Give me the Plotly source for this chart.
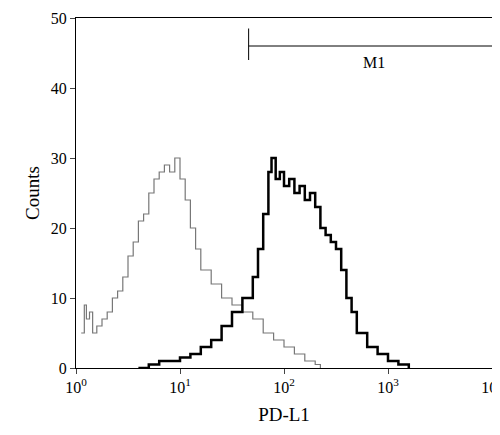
import plotly.graph_objects as go

gray_logx = [0.05,0.08,0.1,0.13,0.16,0.2,0.25,0.3,0.35,0.4,0.45,0.5,0.55,0.6,0.65,0.7,0.75,0.8,0.85,0.9,0.95,1.0,1.05,1.1,1.15,1.2,1.3,1.4,1.5,1.6,1.7,1.8,1.9,2.0,2.1,2.2,2.3,2.35]
gray_counts = [5,9,7,8,5,6,7,8,10,11,13,16,18,21,22,25,27,28,29,28,30,27,24,20,17,14,12,10,9,8,7,5,4,3,2,1,0.5,0]
black_logx = [0.6,0.7,0.8,0.9,1.0,1.1,1.2,1.3,1.4,1.5,1.6,1.7,1.75,1.8,1.85,1.88,1.92,1.96,2.0,2.05,2.1,2.15,2.2,2.25,2.3,2.35,2.4,2.45,2.5,2.55,2.6,2.65,2.7,2.8,2.9,3.0,3.1,3.2]
black_counts = [0,0.5,1,1,1.5,2,3,4,6,8,10,13,17,22,28,30,27,28,26,27,25,26,24,25,23,20,19,18,17,14,10,8,5,3,2,1,0.5,0]
m1_start, m1_end, m1_level = 10**1.66, 10**4, 46
m1_tick_top, m1_tick_bottom = 48.5, 44

fig = go.Figure()
fig.add_trace(go.Scatter(x=[10**v for v in gray_logx], y=gray_counts, mode="lines",
                         line=dict(color="#777", width=1.2, shape="hv")))
fig.add_trace(go.Scatter(x=[10**v for v in black_logx], y=black_counts, mode="lines",
                         line=dict(color="black", width=2.5, shape="hv")))
fig.add_trace(go.Scatter(x=[m1_start, m1_start, None, m1_start, m1_end], y=[m1_tick_bottom, m1_tick_top, None, m1_level, m1_level],
                         mode="lines", line=dict(color="black", width=1)))
fig.add_annotation(x=2.87, y=43.6, text="M1", showarrow=False, font=dict(size=16))

tv = [1, 10, 100, 1000, 10000]
fig.update_layout(
    width=500, height=435, showlegend=False, plot_bgcolor="white", paper_bgcolor="white",
    margin=dict(l=68, r=16, t=10, b=75),
    font=dict(family="Liberation Serif, DejaVu Serif, serif", size=16, color="black"),
    xaxis=dict(type="log", range=[0, 4], tickvals=tv,
               ticktext=[f"10<sup>{i}</sup>" for i in range(5)],
               ticks="outside", ticklen=5, showline=True, linecolor="black", mirror=True,
               showgrid=False, zeroline=False, title=dict(text="PD-L1", standoff=12),
               automargin=False),
    yaxis=dict(range=[0, 50], tickvals=[0,10,20,30,40,50], ticks="outside", ticklen=5,
               showline=True, linecolor="black", mirror=True, showgrid=False, zeroline=False,
               title=dict(text="Counts", standoff=6), automargin=False),
)
fig.write_html("out.html")
